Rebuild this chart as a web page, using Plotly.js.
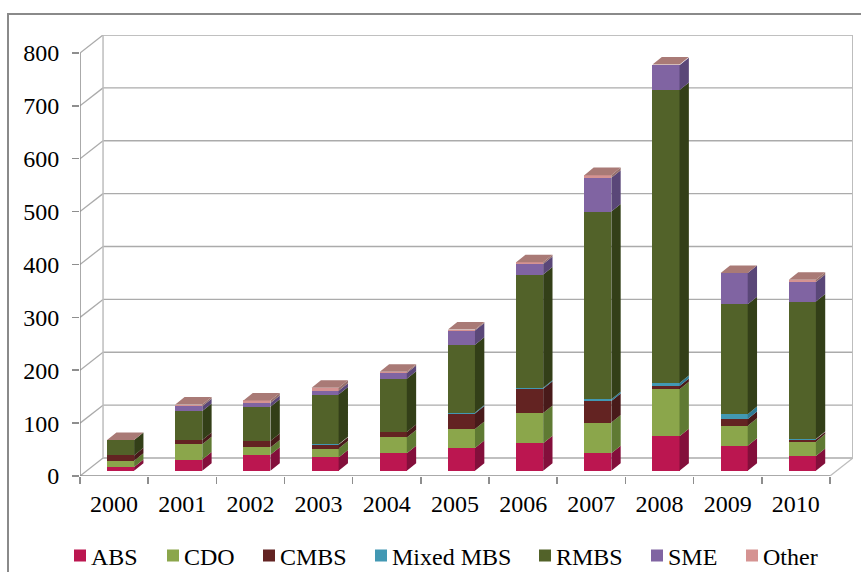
<!DOCTYPE html>
<html><head><meta charset="utf-8">
<script src="https://cdn.plot.ly/plotly-3.0.1.min.js"></script>
<style>html,body{margin:0;padding:0;background:#fff;overflow:hidden}#c{width:861px;height:572px}</style>
</head><body><div id="c"></div>
<script>
var years = ['2000','2001','2002','2003','2004','2005','2006','2007','2008','2009','2010'];
var ABS      = [7, 21, 30, 25, 33, 43, 52, 33, 65, 47, 28];
var CDO      = [12, 29, 14, 17, 30, 36, 57, 58, 89, 38, 27];
var CMBS     = [10, 8, 12, 7, 10, 29, 46, 41, 6, 13, 4];
var MixedMBS = [0, 0, 0, 1, 0, 2, 2, 3, 6, 9, 1];
var RMBS     = [29, 55, 65, 94, 101, 128, 214, 355, 554, 208, 260];
var SME      = [0, 9, 7, 7, 11, 27, 20, 64, 47, 59, 37];
var Other    = [0, 3, 5, 6, 2, 2, 3, 5, 1, 0, 4];
var seriesNames = ['ABS','CDO','CMBS','Mixed MBS','RMBS','SME','Other'];
var seriesValues = [ABS, CDO, CMBS, MixedMBS, RMBS, SME, Other];
var frontColors = ['#BB1650','#8BA64B','#632322','#4298B3','#526229','#8064A2','#D59392'];
var sideColors  = ['#830F3B','#5F7A33','#481A1A','#2E7A94','#333F18','#5A4778','#96706C'];
var legendWidths = [56, 59, 75, 127, 75, 58, 60];
var yTicks = [0,100,200,300,400,500,600,700,800];

var FONT = 'Liberation Serif, Times New Roman, serif';
var FS = 24;
var wallDX = 0.338, wallDY = 34;      // depth of the chart box
var barLeft = -0.103, barW = 0.3965;  // front face of a column relative to its category
var baseLift = 10;                    // front-face lift of columns above the floor
var depthDX = 0.137, depthDY = 14.2;  // depth of a column

var traces = [], sides = [];
var cum = years.map(function(){return baseLift;});
seriesNames.forEach(function(name, s){
  var base = cum.slice();
  traces.push({type:'bar', name:name, x:years, y:seriesValues[s], base:base,
    width:barW, offset:barLeft, legendwidth:legendWidths[s],
    marker:{color:frontColors[s], line:{width:0}}, hoverinfo:'name+y'});
  var sx=[], sy=[];
  years.forEach(function(y,i){
    var v = seriesValues[s][i], xr = i+barLeft+barW;
    sx.push(xr, xr+depthDX, xr+depthDX, xr, xr, null);
    sy.push(base[i], base[i]+depthDY, base[i]+v+depthDY, base[i]+v, base[i], null);
    cum[i] = base[i]+v;
  });
  sides.push({type:'scatter', mode:'lines', x:sx, y:sy, fill:'toself', fillcolor:sideColors[s],
    line:{width:0}, showlegend:false, hoverinfo:'skip', xaxis:'x2', yaxis:'y'});
});
// column tops take the colour of the last series
var tx=[], ty=[];
years.forEach(function(y,i){
  var l=i+barLeft, r=l+barW, t=cum[i];
  tx.push(l, r, r+depthDX, l+depthDX, l, null);
  ty.push(t, t, t+depthDY, t+depthDY, t, null);
});
sides.push({type:'scatter', mode:'lines', x:tx, y:ty, fill:'toself', fillcolor:'#A97A76',
  line:{width:0}, showlegend:false, hoverinfo:'skip', xaxis:'x2', yaxis:'y'});

var L=-0.5, R=10.5, GRID='#ABABAB', WALL='#BDBDBD';
var shapes=[];
function seg(x0,y0,x1,y1,c,w){
  shapes.push({type:'line',layer:'below',xref:'x2',yref:'y',x0:x0,y0:y0,x1:x1,y1:y1,line:{color:c,width:w}});
}
yTicks.forEach(function(v){
  seg(L+wallDX,v+wallDY,R+wallDX,v+wallDY,GRID,1.3);
  seg(L,v,L+wallDX,v+wallDY,GRID,1.3);
});
seg(L+wallDX,wallDY,L+wallDX,800+wallDY,WALL,1.5);
seg(R+wallDX,wallDY,R+wallDX,800+wallDY,WALL,2);
seg(R,0,R+wallDX,wallDY,WALL,1.3);
seg(L,0,R,0,'#8E8E8E',1.5);
seg(L,0,L,800,'#8E8E8E',1.5);
// outer frame of the chart
function px(p){return (p-80)/773;} function py(p){return (476-p)/441;}
shapes.push({type:'path',layer:'below',xref:'paper',yref:'paper',
  path:'M'+px(8)+','+py(572)+'L'+px(8)+','+py(14)+'L'+px(861)+','+py(14),
  line:{color:'#8A8A8A',width:2}});

var layout = {
  width:861, height:572, paper_bgcolor:'#fff', plot_bgcolor:'rgba(0,0,0,0)',
  margin:{l:80,r:8,t:35,b:96,pad:0,autoexpand:false},
  barmode:'overlay', bargap:0,
  font:{family:FONT,size:FS,color:'#000'},
  xaxis:{type:'category', categoryorder:'array', categoryarray:years, range:[L,R+wallDX],
    tickmode:'array', tickvals:years, ticktext:years, tickson:'boundaries',
    ticks:'outside', ticklen:7, tickwidth:1.5, tickcolor:'#8E8E8E',
    showgrid:false, zeroline:false, showline:false, ticklabelstandoff:11,
    tickfont:{family:FONT,size:FS,color:'#000'}},
  xaxis2:{overlaying:'x', range:[L,R+wallDX], visible:false, fixedrange:true},
  yaxis:{range:[0,800+wallDY], tickmode:'array', tickvals:yTicks, ticktext:yTicks.map(String),
    ticks:'outside', ticklen:7, tickwidth:1.5, tickcolor:'#8E8E8E',
    showgrid:false, zeroline:false, showline:false, ticklabelstandoff:8,
    tickfont:{family:FONT,size:FS,color:'#000'}},
  legend:{orientation:'h', xanchor:'left', yanchor:'middle', x:(74-6-80)/773, y:(476-556)/441,
    traceorder:'normal', indentation:-8, bgcolor:'rgba(0,0,0,0)',
    font:{family:FONT,size:FS,color:'#000'}},
  shapes:shapes, showlegend:true
};
Plotly.newPlot('c', traces.concat(sides), layout, {displayModeBar:false, staticPlot:true}).then(function(gd){
  // bring legend labels closer to their swatches
  gd.querySelectorAll('.legendtext').forEach(function(t){
    t.setAttribute('x', parseFloat(t.getAttribute('x')) - 9);
  });
});
</script></body></html>
